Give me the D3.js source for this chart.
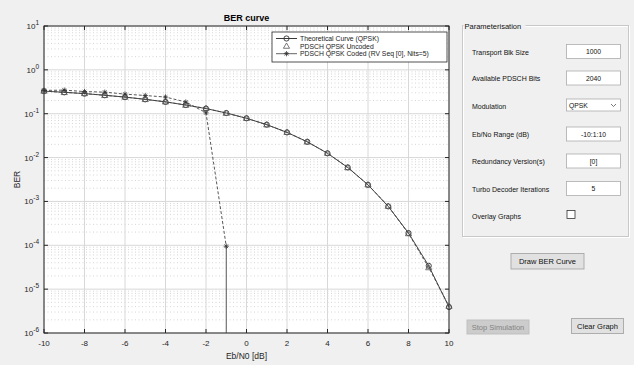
<!DOCTYPE html>
<html>
<head>
<meta charset="utf-8">
<script src="https://cdn.jsdelivr.net/npm/d3@7"></script>
<style>
  body { margin: 0; background: #f0f0f0; }
  svg { display: block; font-family: "Liberation Sans", Arial, sans-serif; }
</style>
</head>
<body>
<div id="chart"></div>
<script>
// Eb/N0 points (dB)
const ebn0 = [-10, -9, -8, -7, -6, -5, -4, -3, -2, -1, 0, 1, 2, 3, 4, 5, 6, 7, 8, 9, 10];
// BER
const theoretical = [0.327, 0.308, 0.287, 0.264, 0.239, 0.213, 0.186, 0.158, 0.131, 0.104, 0.0786,
    0.0563, 0.0375, 0.0229, 0.0125, 0.00595, 0.00239, 0.00077, 0.00019, 0.000034, 0.0000039];
const uncoded = [0.329, 0.306, 0.289, 0.262, 0.24, 0.212, 0.187, 0.157, 0.132, 0.103, 0.0788,
    0.0561, 0.0377, 0.0228, 0.0126, 0.00593, 0.0024, 0.00078, 0.000185, 0.000031, 0.0000041];
const codedEbn0 = [-10, -9, -8, -7, -6, -5, -4, -3, -2, -1, 0];
const coded = [0.34, 0.345, 0.32, 0.31, 0.28, 0.26, 0.24, 0.185, 0.105, 0.000095, 0];

const xTicks = [-10, -8, -6, -4, -2, 0, 2, 4, 6, 8, 10];
const yTickExps = [-6, -5, -4, -3, -2, -1, 0, 1];
const legendLabels = ["Theoretical Curve (QPSK)", "PDSCH QPSK Uncoded", "PDSCH QPSK Coded (RV Seq [0], Nits=5)"];

const paramLabels = ["Transport Blk Size", "Available PDSCH Bits", "Modulation", "Eb/No Range (dB)",
    "Redundancy Version(s)", "Turbo Decoder Iterations", "Overlay Graphs"];
const paramValues = ["1000", "2040", "QPSK", "-10:1:10", "[0]", "5", ""];

const W = 634, H = 365;
const margin = {top: 26, right: 185, bottom: 32, left: 44};

const svg = d3.select("#chart").append("svg")
    .attr("width", W).attr("height", H);
svg.append("rect").attr("width", W).attr("height", H).attr("fill", "#f0f0f0");

const x = d3.scaleLinear().domain([-10, 10]).range([margin.left, W - margin.right]);
const y = d3.scaleLog().domain([1e-6, 10]).range([H - margin.bottom, margin.top]);

const [x0, x1] = x.range();
const [y0, y1] = y.range();

// plot area
svg.append("rect")
    .attr("x", x0).attr("y", y1).attr("width", x1 - x0).attr("height", y0 - y1)
    .attr("fill", "#fff");

// minor grid (dotted)
const minors = [];
yTickExps.slice(0, -1).forEach(e => { for (let m = 2; m <= 9; m++) minors.push(m * Math.pow(10, e)); });
svg.append("g").selectAll("line").data(minors).join("line")
    .attr("x1", x0).attr("x2", x1)
    .attr("y1", d => y(d)).attr("y2", d => y(d))
    .attr("stroke", "#c4c4c4").attr("stroke-width", 0.7).attr("stroke-dasharray", "1,2.5");

// major grid
svg.append("g").selectAll("line").data(yTickExps.map(e => Math.pow(10, e))).join("line")
    .attr("x1", x0).attr("x2", x1)
    .attr("y1", d => y(d)).attr("y2", d => y(d))
    .attr("stroke", "#d8d8d8").attr("stroke-width", 1);
svg.append("g").selectAll("line").data(xTicks).join("line")
    .attr("x1", d => x(d)).attr("x2", d => x(d))
    .attr("y1", y1).attr("y2", y0)
    .attr("stroke", "#d8d8d8").attr("stroke-width", 1);

// box + inward ticks
svg.append("rect")
    .attr("x", x0).attr("y", y1).attr("width", x1 - x0).attr("height", y0 - y1)
    .attr("fill", "none").attr("stroke", "#262626").attr("stroke-width", 1);

const tk = svg.append("g").attr("stroke", "#262626").attr("stroke-width", 1);
xTicks.forEach(v => {
    tk.append("line").attr("x1", x(v)).attr("x2", x(v)).attr("y1", y0).attr("y2", y0 - 4);
    tk.append("line").attr("x1", x(v)).attr("x2", x(v)).attr("y1", y1).attr("y2", y1 + 4);
});
yTickExps.forEach(e => {
    const yy = y(Math.pow(10, e));
    tk.append("line").attr("x1", x0).attr("x2", x0 + 4).attr("y1", yy).attr("y2", yy);
    tk.append("line").attr("x1", x1).attr("x2", x1 - 4).attr("y1", yy).attr("y2", yy);
});

// tick labels
svg.append("g").selectAll("text").data(xTicks).join("text")
    .attr("x", d => x(d)).attr("y", y0 + 13)
    .attr("text-anchor", "middle").attr("font-size", 8).attr("fill", "#262626")
    .text(d => d);

const yl = svg.append("g").selectAll("text").data(yTickExps).join("text")
    .attr("x", x0 - 5).attr("y", d => y(Math.pow(10, d)) + 3)
    .attr("text-anchor", "end").attr("font-size", 8).attr("fill", "#262626");
yl.append("tspan").text("10");
yl.append("tspan").attr("dy", -4).attr("font-size", 6.5).text(d => d);

// titles
svg.append("text").attr("x", (x0 + x1) / 2).attr("y", 21)
    .attr("text-anchor", "middle").attr("font-size", 9).attr("font-weight", "bold")
    .attr("fill", "#000").text("BER curve");
svg.append("text").attr("x", (x0 + x1) / 2).attr("y", 359)
    .attr("text-anchor", "middle").attr("font-size", 8.5).attr("fill", "#262626")
    .text("Eb/N0 [dB]");
svg.append("text").attr("transform", `translate(20, ${(y0 + y1) / 2}) rotate(-90)`)
    .attr("text-anchor", "middle").attr("font-size", 8.5).attr("fill", "#262626")
    .text("BER");

// curves
const clip = svg.append("g");
const lineGen = d3.line().x(d => x(d[0])).y(d => y(d[1]));

const theo = ebn0.map((e, i) => [e, theoretical[i]]);
const unc = ebn0.map((e, i) => [e, uncoded[i]]);
const cod = codedEbn0.map((e, i) => [e, coded[i]]).filter(d => d[1] > 0);
// zero-error point: drawn as a drop to the axis floor
const lastCod = cod[cod.length - 1];

clip.append("path").attr("d", lineGen(theo))
    .attr("fill", "none").attr("stroke", "#333").attr("stroke-width", 0.9);
clip.append("path").attr("d", lineGen(unc))
    .attr("fill", "none").attr("stroke", "#444").attr("stroke-width", 0.9).attr("stroke-dasharray", "3,2");
clip.append("path").attr("d", lineGen(cod))
    .attr("fill", "none").attr("stroke", "#444").attr("stroke-width", 0.9).attr("stroke-dasharray", "3,2");
if (coded[coded.length - 1] === 0) {
    clip.append("line")
        .attr("x1", x(lastCod[0])).attr("x2", x(lastCod[0]))
        .attr("y1", y(lastCod[1])).attr("y2", y0)
        .attr("stroke", "#444").attr("stroke-width", 0.9);
}

function circleMark(g, cx, cy) {
    g.append("circle").attr("cx", cx).attr("cy", cy).attr("r", 2.6)
        .attr("fill", "none").attr("stroke", "#333").attr("stroke-width", 0.9);
}
function triMark(g, cx, cy) {
    const s = 3.1;
    g.append("path").attr("d", `M${cx},${cy - s}L${cx + s},${cy + s * 0.7}L${cx - s},${cy + s * 0.7}Z`)
        .attr("fill", "none").attr("stroke", "#555").attr("stroke-width", 0.8);
}
function starMark(g, cx, cy) {
    const s = 2.6;
    g.append("path")
        .attr("d", `M${cx - s},${cy}L${cx + s},${cy}M${cx},${cy - s}L${cx},${cy + s}M${cx - s * 0.7},${cy - s * 0.7}L${cx + s * 0.7},${cy + s * 0.7}M${cx - s * 0.7},${cy + s * 0.7}L${cx + s * 0.7},${cy - s * 0.7}`)
        .attr("fill", "none").attr("stroke", "#333").attr("stroke-width", 0.8);
}

theo.forEach(d => circleMark(clip, x(d[0]), y(d[1])));
unc.forEach(d => triMark(clip, x(d[0]), y(d[1])));
cod.forEach(d => starMark(clip, x(d[0]), y(d[1])));

// legend
const lg = svg.append("g").attr("transform", "translate(272,32)");
lg.append("rect").attr("width", 175).attr("height", 30)
    .attr("fill", "#fff").attr("stroke", "#262626").attr("stroke-width", 0.8);
legendLabels.forEach((lab, i) => {
    const ly = 6.5 + i * 7.6;
    if (i !== 1) {
        lg.append("line").attr("x1", 4).attr("x2", 25).attr("y1", ly).attr("y2", ly)
            .attr("stroke", i === 0 ? "#222" : "#555").attr("stroke-width", 0.9);
    }
    if (i === 0) circleMark(lg, 14.5, ly);
    if (i === 1) triMark(lg, 14.5, ly);
    if (i === 2) starMark(lg, 14.5, ly);
    lg.append("text").attr("x", 28).attr("y", ly + 2.4)
        .attr("font-size", 6.8).attr("fill", "#222").text(lab);
});

// ---- parameter panel ----
const panel = svg.append("g");
const pb = {x: 462.5, y: 25.5, w: 166, h: 211};
panel.append("rect").attr("x", pb.x + 1).attr("y", pb.y + 1).attr("width", pb.w).attr("height", pb.h)
    .attr("fill", "none").attr("stroke", "#fff").attr("stroke-width", 1);
panel.append("rect").attr("x", pb.x).attr("y", pb.y).attr("width", pb.w).attr("height", pb.h)
    .attr("fill", "none").attr("stroke", "#c8c8c8").attr("stroke-width", 1);
panel.append("rect").attr("x", pb.x + 1).attr("y", pb.y - 5).attr("width", 62).attr("height", 10)
    .attr("fill", "#f0f0f0");
panel.append("text").attr("x", pb.x + 2).attr("y", pb.y + 3)
    .attr("font-size", 7.5).attr("fill", "#111").text("Parameterisation");

const rowY = [52, 78.5, 106, 134.5, 161.5, 189, 216];
paramLabels.forEach((lab, i) => {
    panel.append("text").attr("x", 472).attr("y", rowY[i] + 2.5)
        .attr("font-size", 7).attr("fill", "#111").text(lab);
    const val = paramValues[i];
    if (i === 6) {
        panel.append("rect").attr("x", 567).attr("y", rowY[i] - 5.5).attr("width", 8).attr("height", 8)
            .attr("fill", "#fff").attr("stroke", "#333").attr("stroke-width", 0.8);
    } else if (i === 2) {
        panel.append("rect").attr("x", 566.5).attr("y", rowY[i] - 7).attr("width", 54).attr("height", 12)
            .attr("fill", "#fff").attr("stroke", "#acacac").attr("stroke-width", 0.8);
        panel.append("text").attr("x", 569).attr("y", rowY[i] + 1.5)
            .attr("font-size", 6.8).attr("fill", "#111").text(val);
        panel.append("path").attr("d", `M${611},${rowY[i] - 2}l2.5,2.5l2.5,-2.5`)
            .attr("fill", "none").attr("stroke", "#555").attr("stroke-width", 0.8);
    } else {
        panel.append("rect").attr("x", 566.5).attr("y", rowY[i] - 7.5).attr("width", 54).attr("height", 14)
            .attr("fill", "#fff").attr("stroke", "#acacac").attr("stroke-width", 0.8);
        panel.append("text").attr("x", 593.5).attr("y", rowY[i] + 2.2)
            .attr("text-anchor", "middle").attr("font-size", 6.8).attr("fill", "#111").text(val);
    }
});

function button(bx, by, bw, bh, label, disabled) {
    panel.append("rect").attr("x", bx).attr("y", by).attr("width", bw).attr("height", bh)
        .attr("fill", disabled ? "#cccccc" : "#e1e1e1")
        .attr("stroke", disabled ? "#bfbfbf" : "#adadad").attr("stroke-width", 1);
    panel.append("text").attr("x", bx + bw / 2).attr("y", by + bh / 2 + 2.6)
        .attr("text-anchor", "middle").attr("font-size", 7.5)
        .attr("fill", disabled ? "#838383" : "#111").text(label);
}
button(511, 253.5, 73, 15.5, "Draw BER Curve", false);
button(467, 320, 62, 14, "Stop Simulation", true);
button(571.5, 318.5, 52, 15, "Clear Graph", false);
</script>
</body>
</html>
